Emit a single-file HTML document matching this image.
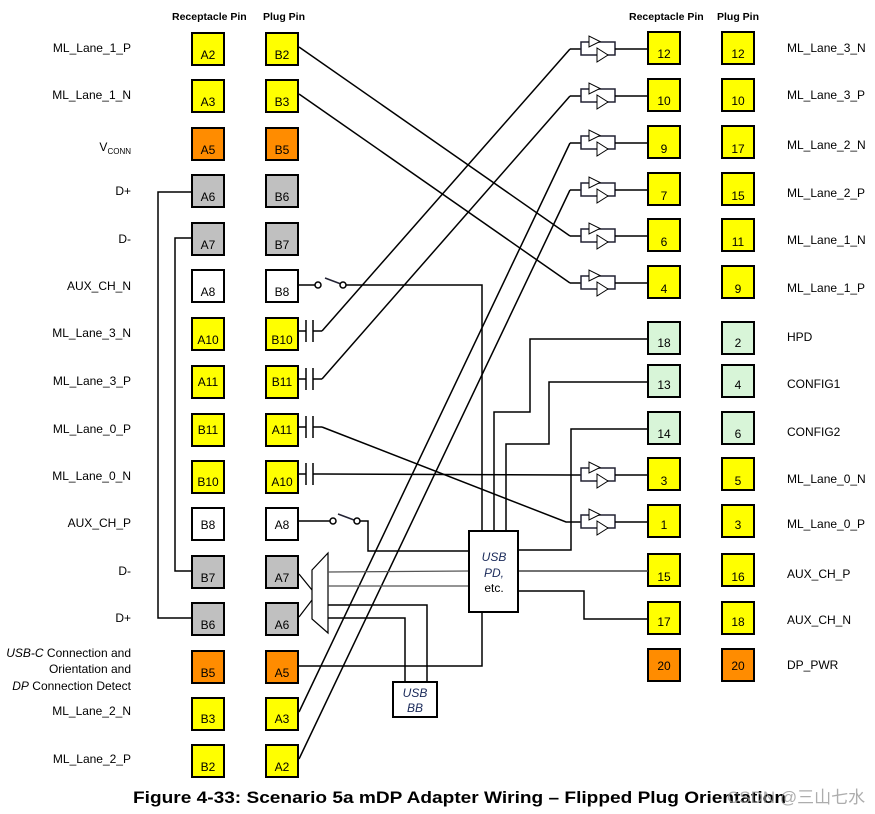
<!DOCTYPE html>
<html><head><meta charset="utf-8"><style>
html,body{margin:0;padding:0;background:#fff;}
svg{display:block;font-family:"Liberation Sans",Arial,sans-serif;}
</style></head><body>
<svg width="875" height="814" viewBox="0 0 875 814" xmlns="http://www.w3.org/2000/svg">
<defs>
<g id="buf">
<line x1="-11" y1="0" x2="0" y2="0" stroke="#000" stroke-width="1.5"/>
<polyline points="0,0 0,-7 34,-7 34,6 0,6 0,0" fill="none" stroke="#223" stroke-width="1.5"/>
<polygon points="8,-13 8,-2 19,-7.5" fill="#fff" stroke="#000" stroke-width="1"/>
<polygon points="16,-1 16,13 27,6" fill="#fff" stroke="#000" stroke-width="1"/>
<line x1="34" y1="0" x2="67" y2="0" stroke="#000" stroke-width="1.5"/>
</g>
<g id="cap">
<line x1="0" y1="0" x2="7" y2="0" stroke="#000" stroke-width="1.5"/>
<line x1="7" y1="-11" x2="7" y2="11" stroke="#000" stroke-width="1.5"/>
<line x1="14" y1="-11" x2="14" y2="11" stroke="#000" stroke-width="1.5"/>
<line x1="14" y1="0" x2="23" y2="0" stroke="#000" stroke-width="1.5"/>
</g>
</defs>

<g font-size="10.5" font-weight="bold" fill="#000">
<text x="172" y="20">Receptacle Pin</text><text x="263" y="20">Plug Pin</text>
<text x="629" y="20">Receptacle Pin</text><text x="717" y="20">Plug Pin</text>
</g>

<!-- left labels -->
<g font-size="12" text-anchor="end" fill="#000">
<text x="131" y="52">ML_Lane_1_P</text>
<text x="131" y="99">ML_Lane_1_N</text>
<text x="131" y="151">V<tspan font-size="8" dy="3">CONN</tspan></text>
<text x="131" y="195">D+</text>
<text x="131" y="243">D-</text>
<text x="131" y="290">AUX_CH_N</text>
<text x="131" y="337">ML_Lane_3_N</text>
<text x="131" y="385">ML_Lane_3_P</text>
<text x="131" y="433">ML_Lane_0_P</text>
<text x="131" y="480">ML_Lane_0_N</text>
<text x="131" y="527">AUX_CH_P</text>
<text x="131" y="575">D-</text>
<text x="131" y="622">D+</text>
<text x="131" y="657"><tspan font-style="italic">USB-C</tspan> Connection and</text>
<text x="131" y="673">Orientation and</text>
<text x="131" y="690"><tspan font-style="italic">DP</tspan> Connection Detect</text>
<text x="131" y="715">ML_Lane_2_N</text>
<text x="131" y="763">ML_Lane_2_P</text>
</g>

<!-- left boxes -->
<g stroke="#000" stroke-width="2">
<rect x="192" y="33" width="32" height="32" fill="#ffff00"/><rect x="266" y="33" width="32" height="32" fill="#ffff00"/>
<rect x="192" y="80" width="32" height="32" fill="#ffff00"/><rect x="266" y="80" width="32" height="32" fill="#ffff00"/>
<rect x="192" y="128" width="32" height="32" fill="#ff8c00"/><rect x="266" y="128" width="32" height="32" fill="#ff8c00"/>
<rect x="192" y="175" width="32" height="32" fill="#c0c0c0"/><rect x="266" y="175" width="32" height="32" fill="#c0c0c0"/>
<rect x="192" y="223" width="32" height="32" fill="#c0c0c0"/><rect x="266" y="223" width="32" height="32" fill="#c0c0c0"/>
<rect x="192" y="270" width="32" height="32" fill="#fff"/><rect x="266" y="270" width="32" height="32" fill="#fff"/>
<rect x="192" y="318" width="32" height="32" fill="#ffff00"/><rect x="266" y="318" width="32" height="32" fill="#ffff00"/>
<rect x="192" y="366" width="32" height="32" fill="#ffff00"/><rect x="266" y="366" width="32" height="32" fill="#ffff00"/>
<rect x="192" y="414" width="32" height="32" fill="#ffff00"/><rect x="266" y="414" width="32" height="32" fill="#ffff00"/>
<rect x="192" y="461" width="32" height="32" fill="#ffff00"/><rect x="266" y="461" width="32" height="32" fill="#ffff00"/>
<rect x="192" y="508" width="32" height="32" fill="#fff"/><rect x="266" y="508" width="32" height="32" fill="#fff"/>
<rect x="192" y="556" width="32" height="32" fill="#c0c0c0"/><rect x="266" y="556" width="32" height="32" fill="#c0c0c0"/>
<rect x="192" y="603" width="32" height="32" fill="#c0c0c0"/><rect x="266" y="603" width="32" height="32" fill="#c0c0c0"/>
<rect x="192" y="651" width="32" height="32" fill="#ff8c00"/><rect x="266" y="651" width="32" height="32" fill="#ff8c00"/>
<rect x="192" y="698" width="32" height="32" fill="#ffff00"/><rect x="266" y="698" width="32" height="32" fill="#ffff00"/>
<rect x="192" y="745" width="32" height="32" fill="#ffff00"/><rect x="266" y="745" width="32" height="32" fill="#ffff00"/>
</g>
<g font-size="12" text-anchor="middle" fill="#000">
<text x="208" y="59">A2</text><text x="282" y="59">B2</text>
<text x="208" y="106">A3</text><text x="282" y="106">B3</text>
<text x="208" y="154">A5</text><text x="282" y="154">B5</text>
<text x="208" y="201">A6</text><text x="282" y="201">B6</text>
<text x="208" y="249">A7</text><text x="282" y="249">B7</text>
<text x="208" y="296">A8</text><text x="282" y="296">B8</text>
<text x="208" y="344">A10</text><text x="282" y="344">B10</text>
<text x="208" y="386">A11</text><text x="282" y="386">B11</text>
<text x="208" y="434">B11</text><text x="282" y="434">A11</text>
<text x="208" y="486">B10</text><text x="282" y="486">A10</text>
<text x="208" y="529">B8</text><text x="282" y="529">A8</text>
<text x="208" y="582">B7</text><text x="282" y="582">A7</text>
<text x="208" y="629">B6</text><text x="282" y="629">A6</text>
<text x="208" y="677">B5</text><text x="282" y="677">A5</text>
<text x="208" y="723">B3</text><text x="282" y="723">A3</text>
<text x="208" y="771">B2</text><text x="282" y="771">A2</text>
</g>

<!-- right boxes -->
<g stroke="#000" stroke-width="2">
<rect x="648" y="32" width="32" height="32" fill="#ffff00"/><rect x="722" y="32" width="32" height="32" fill="#ffff00"/>
<rect x="648" y="79" width="32" height="32" fill="#ffff00"/><rect x="722" y="79" width="32" height="32" fill="#ffff00"/>
<rect x="648" y="126" width="32" height="32" fill="#ffff00"/><rect x="722" y="126" width="32" height="32" fill="#ffff00"/>
<rect x="648" y="173" width="32" height="32" fill="#ffff00"/><rect x="722" y="173" width="32" height="32" fill="#ffff00"/>
<rect x="648" y="219" width="32" height="32" fill="#ffff00"/><rect x="722" y="219" width="32" height="32" fill="#ffff00"/>
<rect x="648" y="266" width="32" height="32" fill="#ffff00"/><rect x="722" y="266" width="32" height="32" fill="#ffff00"/>
<rect x="648" y="322" width="32" height="32" fill="#d8f5d8"/><rect x="722" y="322" width="32" height="32" fill="#d8f5d8"/>
<rect x="648" y="365" width="32" height="32" fill="#d8f5d8"/><rect x="722" y="365" width="32" height="32" fill="#d8f5d8"/>
<rect x="648" y="412" width="32" height="32" fill="#d8f5d8"/><rect x="722" y="412" width="32" height="32" fill="#d8f5d8"/>
<rect x="648" y="458" width="32" height="32" fill="#ffff00"/><rect x="722" y="458" width="32" height="32" fill="#ffff00"/>
<rect x="648" y="505" width="32" height="32" fill="#ffff00"/><rect x="722" y="505" width="32" height="32" fill="#ffff00"/>
<rect x="648" y="554" width="32" height="32" fill="#ffff00"/><rect x="722" y="554" width="32" height="32" fill="#ffff00"/>
<rect x="648" y="602" width="32" height="32" fill="#ffff00"/><rect x="722" y="602" width="32" height="32" fill="#ffff00"/>
<rect x="648" y="649" width="32" height="32" fill="#ff8c00"/><rect x="722" y="649" width="32" height="32" fill="#ff8c00"/>
</g>
<g font-size="12" text-anchor="middle" fill="#000">
<text x="664" y="58">12</text><text x="738" y="58">12</text>
<text x="664" y="105">10</text><text x="738" y="105">10</text>
<text x="664" y="153">9</text><text x="738" y="153">17</text>
<text x="664" y="200">7</text><text x="738" y="200">15</text>
<text x="664" y="246">6</text><text x="738" y="246">11</text>
<text x="664" y="293">4</text><text x="738" y="293">9</text>
<text x="664" y="347">18</text><text x="738" y="347">2</text>
<text x="664" y="389">13</text><text x="738" y="389">4</text>
<text x="664" y="438">14</text><text x="738" y="438">6</text>
<text x="664" y="485">3</text><text x="738" y="485">5</text>
<text x="664" y="529">1</text><text x="738" y="529">3</text>
<text x="664" y="581">15</text><text x="738" y="581">16</text>
<text x="664" y="626">17</text><text x="738" y="626">18</text>
<text x="664" y="670">20</text><text x="738" y="670">20</text>
</g>
<g font-size="12" fill="#000">
<text x="787" y="52">ML_Lane_3_N</text>
<text x="787" y="99">ML_Lane_3_P</text>
<text x="787" y="149">ML_Lane_2_N</text>
<text x="787" y="197">ML_Lane_2_P</text>
<text x="787" y="244">ML_Lane_1_N</text>
<text x="787" y="292">ML_Lane_1_P</text>
<text x="787" y="341">HPD</text>
<text x="787" y="388">CONFIG1</text>
<text x="787" y="436">CONFIG2</text>
<text x="787" y="483">ML_Lane_0_N</text>
<text x="787" y="528">ML_Lane_0_P</text>
<text x="787" y="578">AUX_CH_P</text>
<text x="787" y="624">AUX_CH_N</text>
<text x="787" y="669">DP_PWR</text>
</g>

<!-- buffers -->
<use href="#buf" x="581" y="49"/>
<use href="#buf" x="581" y="96"/>
<use href="#buf" x="581" y="143"/>
<use href="#buf" x="581" y="190"/>
<use href="#buf" x="581" y="236"/>
<use href="#buf" x="581" y="283"/>
<use href="#buf" x="581" y="475"/>
<use href="#buf" x="581" y="522"/>

<!-- caps -->
<use href="#cap" x="299" y="331"/>
<use href="#cap" x="299" y="379"/>
<use href="#cap" x="299" y="427"/>
<use href="#cap" x="299" y="474"/>

<g fill="none" stroke="#000" stroke-width="1.5">
<!-- diagonals -->
<polyline points="299,47 570,236"/>
<polyline points="299,94 570,283"/>
<polyline points="322,331 570,49"/>
<polyline points="322,379 570,96"/>
<polyline points="322,427 566,522 570,522"/>
<polyline points="322,474 570,475"/>
<polyline points="299,712 570,143"/>
<polyline points="299,759 570,190"/>
<!-- D loops -->
<polyline points="192,192 158,192 158,618 192,618"/>
<polyline points="192,238 175,238 175,571 192,571"/>
<!-- right side wiring -->
<polyline points="494,531 494,412 530,412 530,339 648,339"/>
<polyline points="506,531 506,444 549,444 549,382 648,382"/>
<polyline points="518,550 571,550 571,429 648,429"/>
<polyline points="518,571 648,571" stroke="#444"/>
<polyline points="518,591 584,591 584,619 648,619"/>
<!-- B8 switch -->
<polyline points="299,285 315,285"/>
<polyline points="346,285 482,285 482,531"/>
<line x1="325" y1="278" x2="341" y2="284" stroke="#223"/>
<!-- A8 switch -->
<polyline points="299,521 330,521"/>
<polyline points="360,521 368,521 368,551 469,551"/>
<line x1="338" y1="514" x2="354" y2="520" stroke="#223"/>
<!-- bottom -->
<polyline points="482,612 482,666 299,666"/>
<!-- mux -->
<polygon points="312,570 328,553 328,633 312,619" stroke-width="1.2"/>
<line x1="299" y1="574" x2="312" y2="590" stroke-width="1.2"/>
<line x1="299" y1="617" x2="312" y2="600" stroke-width="1.2"/>
<line x1="328" y1="572" x2="469" y2="571" stroke="#555" stroke-width="1.2"/>
<line x1="328" y1="586" x2="469" y2="586" stroke="#555" stroke-width="1.2"/>
<polyline points="328,605 427,605 427,682"/>
<polyline points="328,618 405,618 405,682"/>
</g>
<g fill="#fff" stroke="#000" stroke-width="1.5">
<circle cx="318" cy="285" r="3"/><circle cx="343" cy="285" r="3"/>
<circle cx="333" cy="521" r="3"/><circle cx="357" cy="521" r="3"/>
</g>
<rect x="469" y="531" width="49" height="81" fill="#fff" stroke="#000" stroke-width="2"/>
<g font-size="12" text-anchor="middle" fill="#1a2a5a">
<text x="494" y="561" font-style="italic">USB</text>
<text x="494" y="577" font-style="italic">PD,</text>
<text x="494" y="592" fill="#000">etc.</text>
</g>
<rect x="393" y="682" width="44" height="35" fill="#fff" stroke="#000" stroke-width="2"/>
<g font-size="12" text-anchor="middle" font-style="italic" fill="#1a2a5a">
<text x="415" y="697">USB</text><text x="415" y="712">BB</text>
</g>

<text x="133" y="803" font-size="17" font-weight="bold" textLength="653" lengthAdjust="spacingAndGlyphs">Figure 4-33: Scenario 5a mDP Adapter Wiring – Flipped Plug Orientation</text>
<text x="727" y="803" font-size="17" fill="#999" fill-opacity="0.8" font-family="Liberation Sans, Noto Sans CJK SC, sans-serif">CSDN @三山七水</text>
</svg>
</body></html>
